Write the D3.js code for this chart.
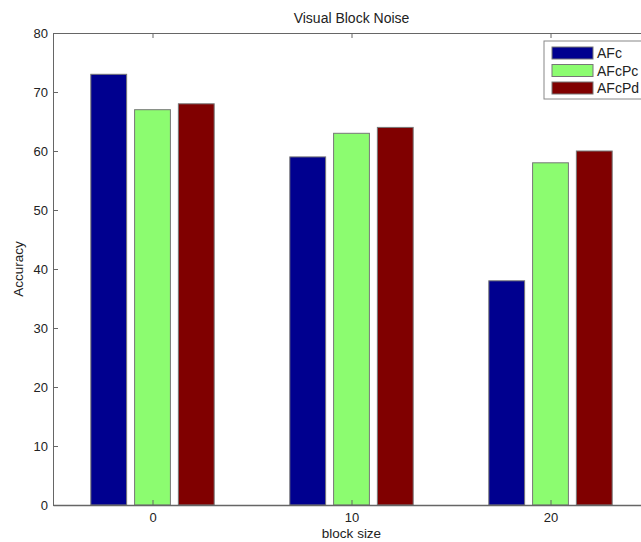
<!DOCTYPE html>
<html><head><meta charset="utf-8">
<script src="https://cdn.jsdelivr.net/npm/d3@7"></script>
<style>body{margin:0;background:#fff;}svg{display:block;font-family:"Liberation Sans",Arial,sans-serif;}</style>
</head><body>
<svg id="c" width="641" height="542"></svg>
<script>
const categories = ["0", "10", "20"];
const seriesNames = ["AFc", "AFcPc", "AFcPd"];
const AFc = [73, 59, 38];
const AFcPc = [67, 63, 58];
const AFcPd = [68, 64, 60];
const yTicks = [0, 10, 20, 30, 40, 50, 60, 70, 80];
const colors = ["#00008f", "#8cfc70", "#800000"];
const series = [AFc, AFcPc, AFcPd];

const svg = d3.select("#c");
const L = 53, R = 650, T = 33, B = 505;
const x = d3.scaleLinear().domain([0.5, 3.5]).range([L, R]);
const y = d3.scaleLinear().domain([0, 80]).range([B, T]);
const barW = 0.18, off = 0.22;

const g = svg.append("g");
series.forEach((vals, si) => {
  g.selectAll(null).data(vals).enter().append("rect")
    .attr("x", (d, i) => x(i + 1 + (si - 1) * off - barW / 2))
    .attr("width", x(barW) - x(0))
    .attr("y", d => y(d))
    .attr("height", d => y(0) - y(d))
    .attr("fill", colors[si])
    .attr("stroke", "#777")
    .attr("stroke-width", 1);
});

const axCol = "#666";
const yAxis = d3.axisLeft(y).tickValues(yTicks).tickSizeInner(-5).tickSizeOuter(0).tickPadding(5);
const ya = svg.append("g").attr("transform", `translate(${L},0)`).call(yAxis);
const xAxis = d3.axisBottom(x).tickValues([1, 2, 3]).tickFormat((d, i) => categories[i]).tickSizeInner(-5).tickSizeOuter(0).tickPadding(8);
const xa = svg.append("g").attr("transform", `translate(0,${B})`).call(xAxis);
const xTop = d3.axisTop(x).tickValues([1, 2, 3]).tickFormat("").tickSizeInner(-5).tickSizeOuter(0);
const xt = svg.append("g").attr("transform", `translate(0,${T})`).call(xTop);
[ya, xa, xt].forEach(a => {
  a.selectAll("path").attr("stroke", axCol);
  a.selectAll("line").attr("stroke", axCol);
  a.selectAll("text").attr("font-size", 13).attr("fill", "#222").attr("font-family", "Liberation Sans, Arial, sans-serif");
});
xa.select("path").attr("stroke-width", 1.5);

svg.append("text").attr("x", (L + R) / 2).attr("y", 23).attr("text-anchor", "middle")
  .attr("font-size", 14).attr("fill", "#222").text("Visual Block Noise");
svg.append("text").attr("x", (L + R) / 2).attr("y", 538).attr("text-anchor", "middle")
  .attr("font-size", 13.5).attr("fill", "#222").text("block size");
svg.append("text").attr("transform", `translate(23,${(T + B) / 2}) rotate(-90)`).attr("text-anchor", "middle")
  .attr("font-size", 13.5).attr("fill", "#222").text("Accuracy");

const lg = svg.append("g");
lg.append("rect").attr("x", 544).attr("y", 41).attr("width", 110).attr("height", 58)
  .attr("fill", "#fff").attr("stroke", "#888");
seriesNames.forEach((n, i) => {
  lg.append("rect").attr("x", 552).attr("y", 47 + i * 17.5).attr("width", 41).attr("height", 12)
    .attr("fill", colors[i]).attr("stroke", "#777");
  lg.append("text").attr("x", 597).attr("y", 58 + i * 17.5).attr("font-size", 14).attr("fill", "#222").text(n);
});
</script>
</body></html>
